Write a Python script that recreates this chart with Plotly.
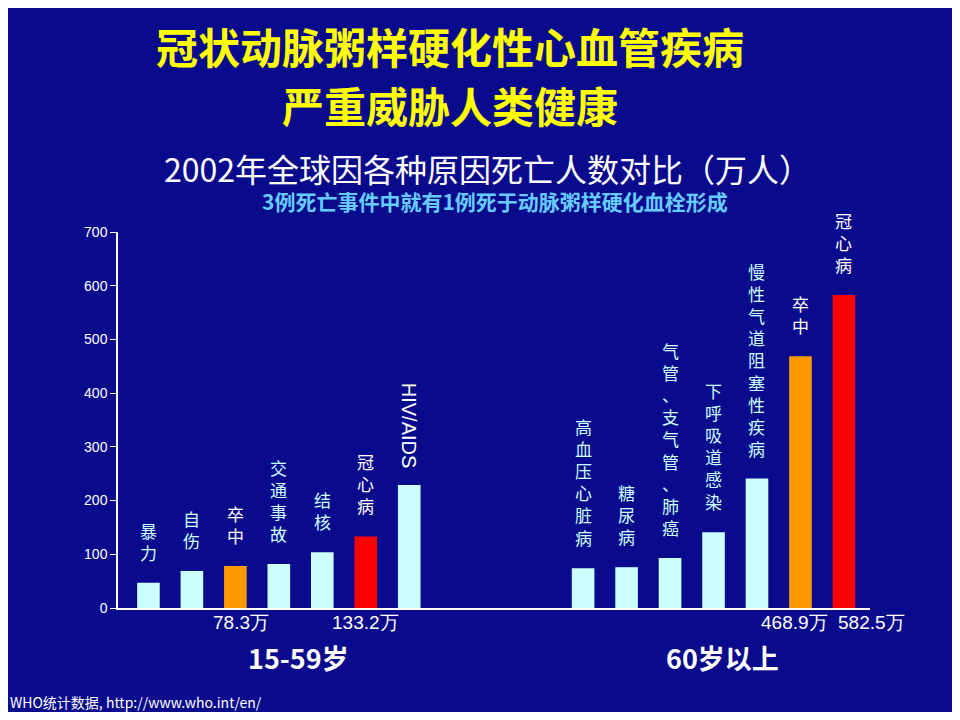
import plotly.graph_objects as go

# 2002年全球死亡人数（万人）
causes_young = ["暴力", "自伤", "卒中", "交通事故", "结核", "冠心病", "HIV/AIDS"]
deaths_young = [47, 69, 78.3, 82, 104, 133.2, 229]
causes_old = ["高血压心脏病", "糖尿病", "气管、支气管、肺癌", "下呼吸道感染",
              "慢性气道阻塞性疾病", "卒中", "冠心病"]
deaths_old = [74, 76, 93, 141, 241, 468.9, 582.5]

x_young = list(range(7))
x_old = list(range(10, 17))
cyan, orange, red = "#CCFFFF", "#FF9900", "#FF0000"

def colors(names):
    return [orange if n == "卒中" else red if n == "冠心病" else cyan for n in names]

fig = go.Figure()
fig.add_bar(x=x_young + x_old, y=deaths_young + deaths_old,
            marker_color=colors(causes_young) + colors(causes_old),
            marker_line_width=0, width=0.52)

font = "Noto Sans CJK SC"
for xs, names, vals in [(x_young, causes_young, deaths_young), (x_old, causes_old, deaths_old)]:
    for x, n, v in zip(xs, names, vals):
        if n == "HIV/AIDS":
            fig.add_annotation(x=x, y=v, text=n, textangle=90, showarrow=False,
                               yanchor="bottom", yshift=14,
                               font=dict(family="Liberation Sans", size=20, color="white"))
        else:
            txt = "<br>".join(ch for ch in n)
            col = "white" if n in ("卒中", "冠心病") else cyan
            fig.add_annotation(x=x, y=v, text=txt, showarrow=False, yanchor="bottom",
                               yshift=16, font=dict(family=font, size=17, color=col))

for x, v, sh in [(2, 78.3, 6), (5, 133.2, 0), (15, 468.9, -6), (16, 582.5, 28)]:
    fig.add_annotation(x=x, y=0, text=f"{v}万", showarrow=False, yanchor="top", yshift=-2,
                       xshift=sh, font=dict(family="Liberation Sans", size=19, color="white"))

def px(xp, yp):
    return (xp - 118) / 752, (608 - yp) / 376

for (xp, yp), t, s, c, b, a in [
    ((450, 45), "冠状动脉粥样硬化性心血管疾病", 42, "#FFFF00", True, "center"),
    ((450, 105), "严重威胁人类健康", 42, "#FFFF00", True, "center"),
    ((487, 168), "2002年全球因各种原因死亡人数对比（万人）", 32, "white", False, "center"),
    ((495, 201), "3例死亡事件中就有1例死于动脉粥样硬化血栓形成", 21, "#66CCFF", True, "center"),
    ((298, 657), "15-59岁", 27, "white", True, "center"),
    ((722, 657), "60岁以上", 27, "white", True, "center"),
    ((8, 702), "WHO统计数据, http://www.who.int/en/", 14, "white", False, "left"),
]:
    x, y = px(xp, yp)
    if b:
        t = f"<b>{t}</b>"
    fig.add_annotation(xref="paper", yref="paper", x=x, y=y, text=t, showarrow=False,
                       xanchor=a, yanchor="middle", font=dict(family=font, size=s, color=c))

fig.update_layout(
    width=944, height=704, paper_bgcolor="#0A0A8C", plot_bgcolor="#0A0A8C",
    showlegend=False, margin=dict(l=110, r=82, t=224, b=104),
    xaxis=dict(range=[-0.7, 16.6], showticklabels=False, showgrid=False, zeroline=False,
               showline=True, linecolor="white", linewidth=1.5),
    yaxis=dict(range=[0, 700], dtick=100, showgrid=False, zeroline=False, showline=True,
               linecolor="white", linewidth=1.5, ticks="outside", tickcolor="white",
               ticklen=6, tickfont=dict(family="Liberation Sans", size=14, color="white")),
)

fig.write_html("out.html")
